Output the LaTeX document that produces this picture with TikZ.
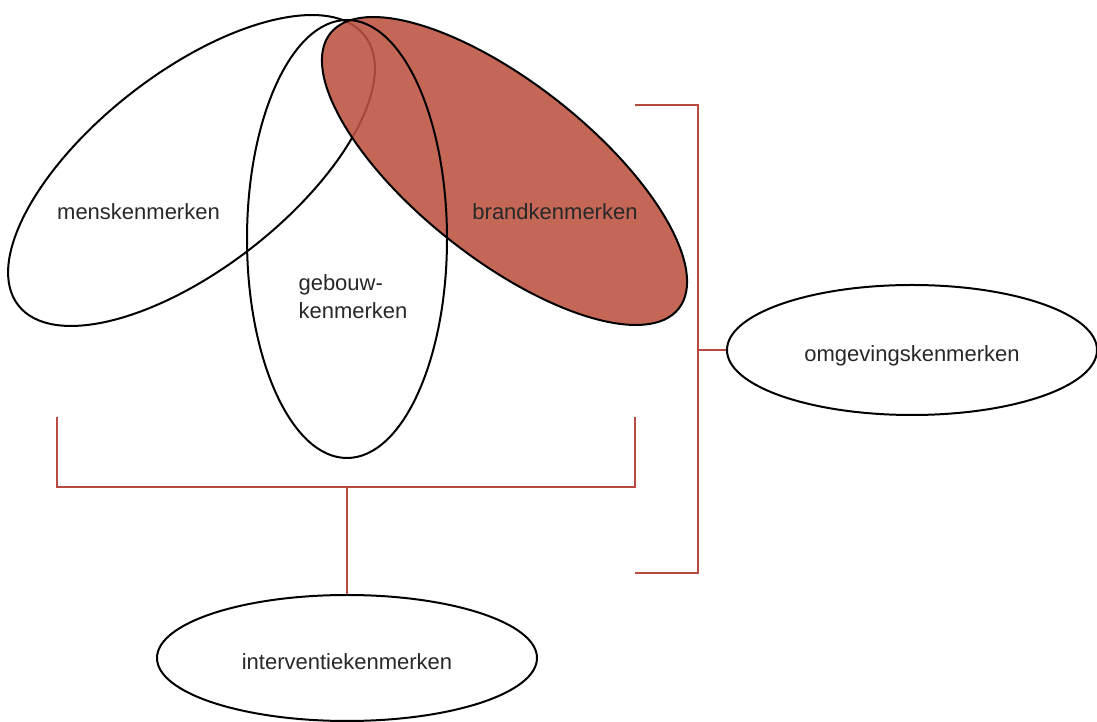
\documentclass[tikz,border=0pt]{standalone}
\usepackage{fontspec}
\setmainfont{Liberation Sans}
\usetikzlibrary{shapes.geometric,positioning}
\definecolor{brandrood}{RGB}{188,82,64}
\definecolor{lijnrood}{RGB}{184,74,66}
\definecolor{tekstgrijs}{RGB}{40,40,40}

\begin{document}
\begin{tikzpicture}[x=1pt,y=1pt]

\tikzset{kenmerk/.style={ellipse, draw=black, line width=2pt, inner sep=0pt},
         woord/.style={text=tekstgrijs, font=\fontsize{22}{28}\selectfont},
         haak/.style={draw=lijnrood, line width=1.8pt}}

\useasboundingbox (0,0) rectangle (1097,722);

% de drie overlappende kenmerken
\node[kenmerk, minimum width=439pt, minimum height=196pt, rotate=37.9] (mens) at (191.5,551.5) {};
\node[kenmerk, fill=brandrood, fill opacity=0.88, minimum width=444pt, minimum height=176pt, rotate=-38.3] (brand) at (504.5,551) {};
\node[kenmerk, minimum width=200pt, minimum height=438pt] (gebouw) at (347,483) {};

\node[woord, anchor=base] (menstekst) at (138.5,502) {menskenmerken};
\node[woord, anchor=base] (brandtekst) at (555,502) {brandkenmerken};
\node[woord, align=left, anchor=west] (gebouwtekst) at (295,425) {gebouw-\\kenmerken};

% losse kenmerken
\node[kenmerk, woord, text height=24pt, text depth=0pt, minimum width=370pt, minimum height=130pt] (omgeving) at (912,372) {omgevingskenmerken};
\node[kenmerk, woord, text height=24pt, text depth=0pt, minimum width=380pt, minimum height=126pt] (interventie) at (347,64) {interventiekenmerken};

% haken
\coordinate (mensvoet) at (57,305);
\coordinate (brandvoet) at (635,305);
\coordinate (knoopB) at (347,235);
\draw[haak] (mensvoet) |- (knoopB) -| (brandvoet);
\draw[haak] (knoopB) -- (interventie.north);

\coordinate (haakboven) at (635,617);
\coordinate (haakonder) at (635,149);
\coordinate (knoopR) at (698,372);
\draw[haak] (haakboven) -| (knoopR) |- (haakonder);
\draw[haak] (knoopR) -- (omgeving.west);

\end{tikzpicture}
\end{document}
